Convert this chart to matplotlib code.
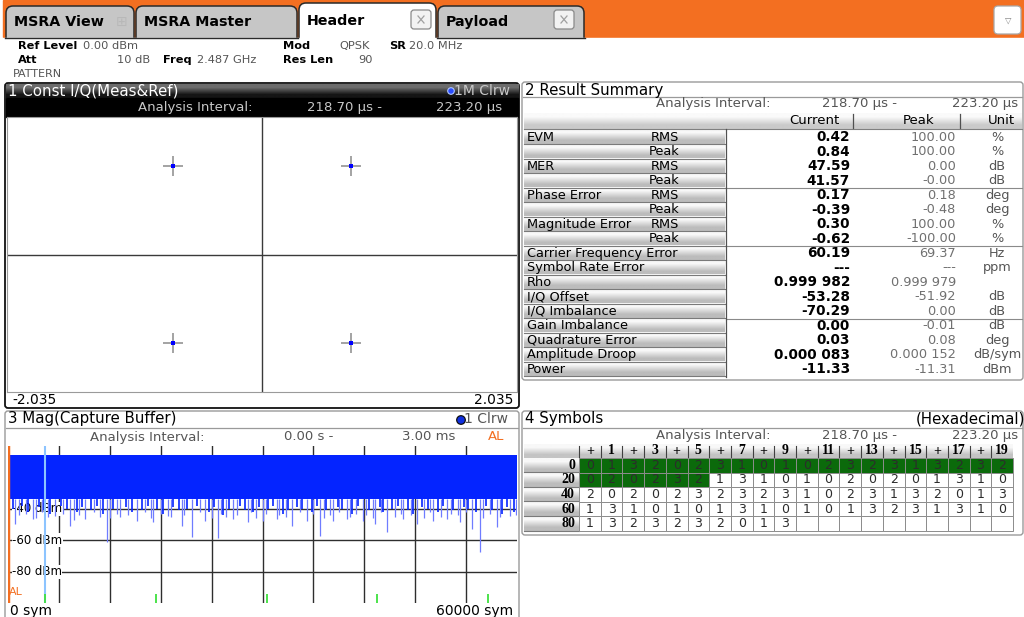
import matplotlib
matplotlib.use("Agg")
import matplotlib.pyplot as plt
import matplotlib.colors as mcolors
import numpy as np
from matplotlib.patches import Rectangle, FancyBboxPatch, Circle

W, H = 1024, 617

# tab bar
tab_names = ["MSRA View", "MSRA Master", "Header", "Payload"]
tab_edges = [5, 135, 298, 437, 585]
active_tab = "Header"

# 1 Const I/Q : normalised QPSK points
const_i = [-0.707, 0.707, -0.707, 0.707]
const_q = [0.707, 0.707, -0.707, -0.707]
iq_range = 2.035

# 2 Result Summary
summary_names = ["EVM", "", "MER", "", "Phase Error", "", "Magnitude Error", "",
                 "Carrier Frequency Error", "Symbol Rate Error", "Rho", "I/Q Offset",
                 "I/Q Imbalance", "Gain Imbalance", "Quadrature Error",
                 "Amplitude Droop", "Power"]
summary_kind = ["RMS", "Peak", "RMS", "Peak", "RMS", "Peak", "RMS", "Peak"] + [""] * 9
summary_current = ["0.42", "0.84", "47.59", "41.57", "0.17", "-0.39", "0.30", "-0.62",
                   "60.19", "---", "0.999 982", "-53.28", "-70.29", "0.00", "0.03",
                   "0.000 083", "-11.33"]
summary_peak = ["100.00", "100.00", "0.00", "-0.00", "0.18", "-0.48", "100.00", "-100.00",
                "69.37", "---", "0.999 979", "-51.92", "0.00", "-0.01", "0.08",
                "0.000 152", "-11.31"]
summary_unit = ["%", "%", "dB", "dB", "deg", "deg", "%", "%", "Hz", "ppm", "", "dB",
                "dB", "dB", "deg", "dB/sym", "dBm"]
summary_group_end = [3, 7, 12]

# 3 Mag(Capture Buffer), values in dBm over symbol index
mag_band_top = -5.5
mag_band_bottom = -33.5
mag_deep_sym = [825, 2990, 5540, 7310, 9080, 11710, 13200, 15170, 17130, 18900,
                20480, 21650, 23230, 24800, 26570, 28340, 30100, 31680, 33450, 35210,
                36780, 38360, 39930, 41900, 43270, 44650, 46610, 48180, 50150, 51720,
                53290, 54670, 55650, 57620, 59190]
mag_deep_dbm = [-49.7, -46.6, -44.4, -50.8, -46.6, -61.4, -45.5, -47.6, -48.7, -44.4,
                -50.8, -58.2, -47.6, -58.8, -46.6, -48.7, -47.6, -46.6, -50.8, -47.6,
                -57.1, -47.6, -46.6, -47.6, -49.7, -55.0, -46.6, -49.7, -47.6, -46.6,
                -48.7, -52.9, -67.7, -51.8, -44.4]
mag_mid_sym = [1300, 2100, 3300, 4000, 4700, 6500, 7800, 8400, 10100, 10900, 12000,
               12800, 14200, 16100, 16800, 18000, 19200, 20800, 22600, 24000, 25100,
               25700, 27000, 28600, 29200, 30400, 32000, 32800, 34400, 36000, 37200,
               38000, 39000, 40300, 41000, 42200, 43000, 44000, 45600, 46300, 47500,
               49000, 49800, 51000, 52200, 53000, 54000, 56000, 56800, 58000, 59900]
mag_mid_dbm = [-44, -43, -46, -42, -45, -43, -47, -44, -42, -45, -46, -43, -44, -42,
               -46, -43, -45, -44, -42, -46, -43, -45, -44, -42, -46, -43, -44, -45,
               -42, -43, -46, -44, -42, -45, -43, -44, -46, -42, -45, -43, -44, -46,
               -42, -45, -43, -44, -42, -46, -43, -45, -44]
mag_short_sym = [600, 1700, 2400, 3600, 4300, 5000, 6200, 6900, 8100, 8700, 9800,
                 10500, 11200, 12400, 13900, 14600, 15800, 16500, 17600, 18300, 19500,
                 20100, 21100, 22300, 23700, 24300, 25400, 26000, 27300, 27900, 28900,
                 29600, 30700, 31200, 32400, 33000, 34100, 34700, 35800, 36400, 37500,
                 38900, 39400, 40600, 41300, 42500, 43800, 44200, 45300, 46000, 47200,
                 47700, 48800, 49500, 50700, 51300, 52500, 53800, 54200, 55200, 56300,
                 57000, 58200, 58800, 59600]
mag_short_dbm = [-40, -38, -42, -39, -41, -43, -38, -40, -42, -39, -41, -38, -43, -40,
                 -39, -42, -41, -38, -40, -43, -39, -41, -40, -38, -42, -39, -44, -40,
                 -38, -41, -42, -39, -40, -38, -43, -41, -39, -40, -42, -38, -41, -39,
                 -40, -43, -38, -41, -39, -42, -40, -38, -41, -43, -39, -40, -42, -38,
                 -41, -39, -40, -42, -38, -41, -43, -39, -42]
frame_marks_sym = [4360, 17450, 30530, 43500, 56580]
sym_total = 60000

# 4 Symbols (hexadecimal)
symbol_row_start = [0, 20, 40, 60, 80]
symbol_header = ["+", "1", "+", "3", "+", "5", "+", "7", "+", "9",
                 "+", "11", "+", "13", "+", "15", "+", "17", "+", "19"]
symbols = [
    [0, 1, 3, 2, 0, 2, 3, 1, 0, 1, 0, 2, 3, 2, 3, 1, 3, 2, 3, 2],
    [0, 2, 0, 2, 3, 2, 1, 3, 1, 0, 1, 0, 2, 0, 2, 0, 1, 3, 1, 0],
    [2, 0, 2, 0, 2, 3, 2, 3, 2, 3, 1, 0, 2, 3, 1, 3, 2, 0, 1, 3],
    [1, 3, 1, 0, 1, 0, 1, 3, 1, 0, 1, 0, 1, 3, 2, 3, 1, 3, 1, 0],
    [1, 3, 2, 3, 2, 3, 2, 0, 1, 3],
]
symbols_in_pattern = 26

ORANGE = "#f36f21"
GRAY_TXT = "#555555"
BLUE = "#0424ff"


def grad(ax, x0, y0, x1, y1, top, bottom, z=4):
    c = np.array([mcolors.to_rgb(top), mcolors.to_rgb(bottom)])[:, None, :]
    ax.imshow(c, extent=(x0, x1, y1, y0), aspect="auto",
              interpolation="bilinear", zorder=z)


def px_axes(fig, x0, y0, x1, y1):
    return fig.add_axes([x0 / W, 1 - y1 / H, (x1 - x0) / W, (y1 - y0) / H])


def txt(ax, x, y, s, size=9.3, **kw):
    kw.setdefault("va", "center")
    kw.setdefault("zorder", 8)
    ax.text(x, y, s, fontsize=size, **kw)


def panel(ax, x0, y0, x1, y1, ec="#9a9a9a", lw=1.0):
    ax.add_patch(FancyBboxPatch((x0, y0), x1 - x0, y1 - y0,
                                boxstyle="round,pad=0,rounding_size=3",
                                fc="white", ec=ec, lw=lw, zorder=3))


def xbox(ax, x, y):
    ax.add_patch(FancyBboxPatch((x, y), 20, 19, boxstyle="round,pad=0,rounding_size=3",
                                fc="#f2f2f2", ec="#8a8a8a", lw=0.9, zorder=6))
    ax.plot([x + 7, x + 13], [y + 6, y + 13], color="#a0a0a0", lw=0.9, zorder=7)
    ax.plot([x + 7, x + 13], [y + 13, y + 6], color="#a0a0a0", lw=0.9, zorder=7)


fig = plt.figure(figsize=(W / 100, H / 100), dpi=100)
bg = fig.add_axes([0, 0, 1, 1])
bg.axis("off")

# tab bar
bg.add_patch(Rectangle((3, 0), W - 3, 37, color=ORANGE, zorder=1))
for k, name in enumerate(tab_names):
    x0, x1 = tab_edges[k], tab_edges[k + 1]
    active = name == active_tab
    top = 3 if active else 6
    bg.add_patch(FancyBboxPatch((x0 + 1, top), x1 - x0 - 2, 50 - top,
                                boxstyle="round,pad=0,rounding_size=7",
                                fc="white" if active else "#c6c6c6",
                                ec="#2a2a2a", lw=1.1, zorder=2))
    txt(bg, x0 + 9, 21 if active else 22, name, size=10.3, weight="bold")
bg.add_patch(Rectangle((0, 37.5), W, H, color="white", zorder=3))
bg.plot([5, 298], [37.5, 37.5], color="#2a2a2a", lw=1, zorder=3)
bg.plot([437, 585], [37.5, 37.5], color="#2a2a2a", lw=1, zorder=3)
txt(bg, 122, 22, "\u229e", size=10, color="#b8b8b8", ha="center")
xbox(bg, 411, 10)
xbox(bg, 554, 10)
bg.add_patch(FancyBboxPatch((994, 6), 27, 28, boxstyle="round,pad=0,rounding_size=4",
                            fc="white", ec="#a8a8a8", lw=0.9, zorder=6))
txt(bg, 1008, 20, "\u25bd", size=6, color="#808080", ha="center")

# measurement settings
hs = 8.2
txt(bg, 18, 46, "Ref Level", weight="bold", size=hs)
txt(bg, 83, 46, "0.00 dBm", color=GRAY_TXT, size=hs)
txt(bg, 283, 46, "Mod", weight="bold", size=hs)
txt(bg, 370, 46, "QPSK", color=GRAY_TXT, size=hs, ha="right")
txt(bg, 389, 46, "SR", weight="bold", size=hs)
txt(bg, 409, 46, "20.0 MHz", color=GRAY_TXT, size=hs)
txt(bg, 18, 60, "Att", weight="bold", size=hs)
txt(bg, 150, 60, "10 dB", color=GRAY_TXT, size=hs, ha="right")
txt(bg, 163, 60, "Freq", weight="bold", size=hs)
txt(bg, 197, 60, "2.487 GHz", color=GRAY_TXT, size=hs)
txt(bg, 283, 60, "Res Len", weight="bold", size=hs)
txt(bg, 373, 60, "90", color=GRAY_TXT, size=hs, ha="right")
txt(bg, 13, 74, "PATTERN", color=GRAY_TXT, size=8)

# panel 1 frame
panel(bg, 5, 83, 519, 408, ec="#111111", lw=1.3)
grad(bg, 5.7, 84, 518.3, 98, "#6c6c6c", "#151515")
bg.add_patch(Rectangle((5.7, 98), 512.6, 18.5, color="black", zorder=4))
txt(bg, 8, 91, "1 Const I/Q(Meas&Ref)", size=10.8, color="white")
bg.add_patch(Circle((451, 91), 3.3, fc="#2a4cff", ec="#b0c8ff", lw=0.8, zorder=8))
txt(bg, 510, 91, "1M Clrw", size=10, color="#c8c8c8", ha="right")
txt(bg, 252, 108, "Analysis Interval:", size=9.5, color="#c8c8c8", ha="right")
txt(bg, 382, 108, "218.70 \u00b5s -", size=9.5, color="#c8c8c8", ha="right")
txt(bg, 502, 108, "223.20 \u00b5s", size=9.5, color="#c8c8c8", ha="right")
txt(bg, 12, 400, "-2.035", size=10)
txt(bg, 513, 400, "2.035", size=10, ha="right")

# panel 2 frame + table
panel(bg, 522, 82, 1023, 380)
bg.plot([523, 1022], [97, 97], color="#9a9a9a", lw=0.9, zorder=5)
txt(bg, 525, 90, "2 Result Summary", size=10.8)
txt(bg, 771, 104, "Analysis Interval:", size=9.5, color=GRAY_TXT, ha="right")
txt(bg, 897, 104, "218.70 \u00b5s -", size=9.5, color=GRAY_TXT, ha="right")
txt(bg, 1018, 104, "223.20 \u00b5s", size=9.5, color=GRAY_TXT, ha="right")
grad(bg, 524, 113, 1022, 129, "#fafafa", "#cacaca")
bg.plot([524, 1022], [129, 129], color="#808080", lw=0.8, zorder=5)
for xs in (853, 960):
    bg.plot([xs, xs], [114, 128], color="#505050", lw=0.9, zorder=5)
txt(bg, 789, 121, "Current", size=9.5)
txt(bg, 903, 121, "Peak", size=9.5)
txt(bg, 1001, 121, "Unit", size=9.5, ha="center")
row_h = 14.5
for i in range(len(summary_names)):
    top = 130 + i * row_h
    yc = top + row_h / 2
    grad(bg, 524, top, 725, top + row_h, "#f8f8f8", "#bcbcbc")
    bg.plot([524, 725], [top + row_h - 0.4] * 2, color="#7a7a7a", lw=0.8, zorder=5)
    txt(bg, 527, yc, summary_names[i], size=9.3)
    txt(bg, 679, yc, summary_kind[i], size=9.3, ha="right")
    txt(bg, 850, yc, summary_current[i], size=9.8, weight="bold", ha="right")
    txt(bg, 956, yc, summary_peak[i], size=9.3, color="#707070", ha="right")
    txt(bg, 997, yc, summary_unit[i], size=9.3, color=GRAY_TXT, ha="center")
for g in summary_group_end:
    yl = 130 + (g + 1) * row_h
    bg.plot([726, 1022], [yl, yl], color="#8a8a8a", lw=0.8, zorder=5)
bg.plot([725.5, 725.5], [129, 130 + len(summary_names) * row_h],
        color="#505050", lw=0.9, zorder=5)

# panel 3 frame
panel(bg, 5, 411, 519, 625)
bg.plot([6, 518], [428, 428], color="#9a9a9a", lw=0.9, zorder=5)
txt(bg, 8, 419, "3 Mag(Capture Buffer)", size=10.8)
bg.add_patch(Circle((461, 420), 4.3, fc="#1030e0", ec="#101010", lw=0.9, zorder=8))
txt(bg, 508, 419, "1 Clrw", size=10, color=GRAY_TXT, ha="right")
txt(bg, 205, 437, "Analysis Interval:", size=9.5, color=GRAY_TXT, ha="right")
txt(bg, 333, 437, "0.00 s -", size=9.5, color=GRAY_TXT, ha="right")
txt(bg, 455, 437, "3.00 ms", size=9.5, color=GRAY_TXT, ha="right")
txt(bg, 496, 437, "AL", size=9.5, color=ORANGE, ha="center")
txt(bg, 10, 611, "0 sym", size=10)
txt(bg, 513, 611, "60000 sym", size=10, ha="right")

# panel 4 frame + symbol table
panel(bg, 522, 411, 1023, 535)
bg.plot([523, 1022], [428, 428], color="#9a9a9a", lw=0.9, zorder=5)
txt(bg, 525, 419, "4 Symbols", size=10.8)
txt(bg, 1025, 419, "(Hexadecimal)", size=10.8, ha="right")
txt(bg, 771, 436, "Analysis Interval:", size=9.5, color=GRAY_TXT, ha="right")
txt(bg, 897, 436, "218.70 \u00b5s -", size=9.5, color=GRAY_TXT, ha="right")
txt(bg, 1018, 436, "223.20 \u00b5s", size=9.5, color=GRAY_TXT, ha="right")
col_x0, col_w = 579, 21.7
row_y0, sym_h = 458, 14.6
grad(bg, 524, 444, col_x0 + 20 * col_w, row_y0, "#f8f8f8", "#c4c4c4")
for k, lab in enumerate(symbol_header):
    xc = col_x0 + (k + 0.5) * col_w
    txt(bg, xc, 451, lab, size=10, weight="bold", ha="center",
        family="Liberation Serif")
    bg.plot([col_x0 + k * col_w] * 2, [446, 457], color="#404040", lw=0.8, zorder=5)
for r, start in enumerate(symbol_row_start):
    top = row_y0 + r * sym_h
    grad(bg, 524, top, col_x0, top + sym_h, "#f8f8f8", "#bcbcbc")
    bg.plot([524, col_x0], [top + sym_h - 0.4] * 2, color="#7a7a7a", lw=0.8, zorder=5)
    txt(bg, col_x0 - 4, top + sym_h / 2, str(start), size=10, weight="bold",
        ha="right", family="Liberation Serif")
    for c in range(20):
        idx = start + c
        inside = c < len(symbols[r])
        green = inside and idx < symbols_in_pattern
        bg.add_patch(Rectangle((col_x0 + c * col_w, top), col_w, sym_h,
                               fc="#0b6a0b" if green else "white",
                               ec="#8c8c8c", lw=0.7, zorder=5))
        if inside:
            txt(bg, col_x0 + (c + 0.5) * col_w, top + sym_h / 2, str(symbols[r][c]),
                size=9, ha="center", color="#2c2c2c")

bg.set_xlim(0, W)
bg.set_ylim(H, 0)

# constellation diagram
ax1 = px_axes(fig, 7, 117, 517, 392)
ax1.set_xlim(-iq_range, iq_range)
ylim1 = iq_range * 275 / 510
ax1.set_ylim(-ylim1, ylim1)
ax1.axhline(0, color="#3a3a3a", lw=1)
ax1.axvline(0, color="#3a3a3a", lw=1)
ax1.plot(const_i, const_q, ls="none", marker="+", ms=14, mew=1.1, color="#8a8a8a")
ax1.plot(const_i, const_q, ls="none", marker="s", ms=2.8, mew=0, color="#0000ff")
ax1.set_xticks([])
ax1.set_yticks([])
for s in ax1.spines.values():
    s.set_color("#9a9a9a")
    s.set_linewidth(0.8)

# capture buffer magnitude
ax3 = px_axes(fig, 8, 446, 517, 603)
ax3.set_xlim(0, sym_total)
ax3.set_ylim(-100, 0)
for xv in range(6000, sym_total, 6000):
    ax3.axvline(xv, color="#2e2e2e", lw=1, zorder=1)
for yv in (-20, -40, -60, -80):
    ax3.axhline(yv, color="#2e2e2e", lw=1, zorder=1)
for yv in (-40, -60, -80):
    ax3.text(470, yv, f"{yv} dBm", fontsize=8.5, va="center", zorder=2,
             bbox=dict(fc="white", ec="none", pad=0.3))
ax3.vlines(mag_deep_sym, mag_band_bottom, mag_deep_dbm, color="#6f7cff", lw=0.9, zorder=3)
ax3.vlines(mag_mid_sym, mag_band_bottom, mag_mid_dbm, color="#6f7cff", lw=0.9, zorder=3)
ax3.vlines(mag_short_sym, mag_band_bottom, mag_short_dbm, color=BLUE, lw=1.2, zorder=3)
ax3.fill_between([0, sym_total], mag_band_bottom, mag_band_top, color=BLUE, lw=0,
                 zorder=3)
ax3.axvline(frame_marks_sym[0], color="#8cc4ff", lw=1.5, zorder=5)
ax3.vlines(frame_marks_sym, -100, -94, color="#3ee03e", lw=1.3, zorder=6)
ax3.axvline(0, color=ORANGE, lw=2.5, zorder=6)
ax3.text(120, -93, "AL", fontsize=8, color=ORANGE, va="center", zorder=7)
ax3.set_xticks([])
ax3.set_yticks([])
for s in ax3.spines.values():
    s.set_visible(False)

fig.savefig("out.png", dpi=100)
